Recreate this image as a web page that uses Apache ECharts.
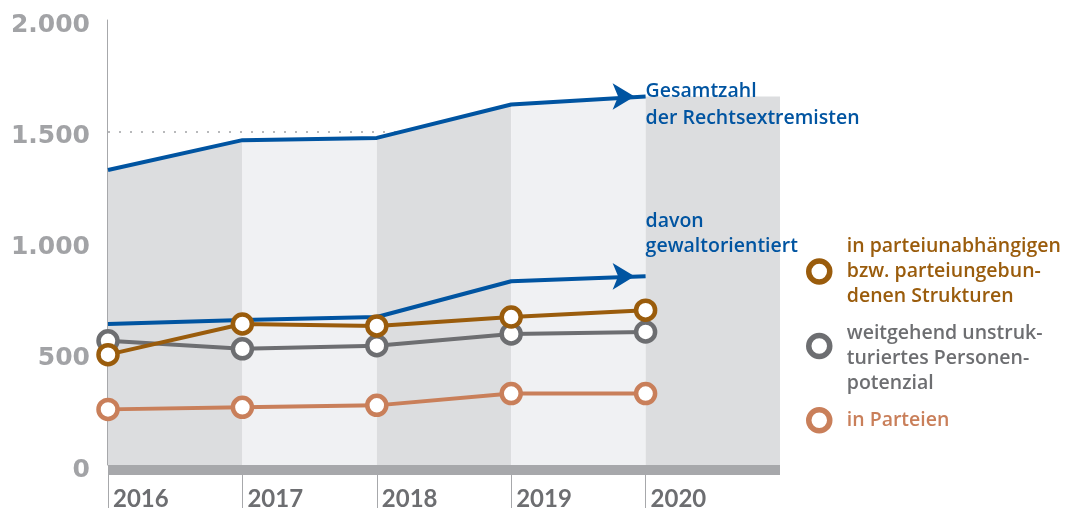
<!DOCTYPE html>
<html>
<head>
<meta charset="utf-8">
<script src="https://cdn.jsdelivr.net/npm/echarts@6/dist/echarts.min.js"></script>
<style>
html,body{margin:0;padding:0;background:#fff;}
#chart{width:1078px;height:511px;}
</style>
</head>
<body>
<div id="chart"></div>
<script>
// ---- data ----
const years = [2016, 2017, 2018, 2019, 2020];
const xMax = 2021;
const yTicks = [0, 500, 1000, 1500, 2000];
const gesamt = [1326, 1460, 1470, 1620, 1656];
const gewalt = [634, 652, 665, 826, 848];
const parteiunabh = [496, 634, 625, 665, 696];
const unstrukturiert = [558, 522, 536, 589, 598];
const parteien = [250, 259, 268, 321, 321];

const nameGesamt = 'Gesamtzahl\nder Rechtsextremisten';
const nameGewalt = 'davon\ngewaltorientiert';
const nameUnabh = 'in parteiunabhängigen\nbzw. parteiungebun-\ndenen Strukturen';
const nameUnstr = 'weitgehend unstruk-\nturiertes Personen-\npotenzial';
const nameParteien = 'in Parteien';

// ---- styles ----
const BLUE = '#0054a1';
const BROWN = '#9a5c0c';
const GRAY = '#6d6e71';
const ORANGE = '#c97f5a';
const BAND_DARK = '#dcdddf';
const BAND_LIGHT = '#f0f1f3';
const TXT_FONT = 'Open Sans';

function pairs(xs, ys) { return xs.map((x, i) => [x, ys[i]]); }
function fmtDE(v) {
  if (v >= 1000) return Math.floor(v / 1000) + '.' + String(v % 1000).padStart(3, '0');
  return String(v);
}

// background bands under the total line
const bandSeries = [];
for (let i = 0; i < years.length; i++) {
  const x0 = years[i];
  const x1 = i + 1 < years.length ? years[i + 1] : xMax;
  const y0 = gesamt[i];
  const y1 = i + 1 < years.length ? gesamt[i + 1] : gesamt[i];
  bandSeries.push({
    type: 'line', silent: true, symbol: 'none', z: 1,
    data: [[x0, y0], [x1, y1]],
    lineStyle: { width: 0, opacity: 0 },
    areaStyle: { color: i % 2 === 0 ? BAND_DARK : BAND_LIGHT, opacity: 1 }
  });
}

function arrowData(ys) {
  return ys.map((v, i) => {
    if (i === ys.length - 1) {
      return { value: [years[i], v], symbol: 'arrow', symbolSize: [20, 22], symbolRotate: -90,
               symbolOffset: [-11, 0], itemStyle: { color: BLUE } };
    }
    return { value: [years[i], v], symbol: 'none' };
  });
}

function markerSeries(name, ys, color, z) {
  return {
    name, type: 'line', z, data: pairs(years, ys),
    symbol: 'circle', symbolSize: 19, showSymbol: true,
    lineStyle: { color, width: 4 },
    itemStyle: { color: '#fff', borderColor: color, borderWidth: 4.5 }
  };
}

const labelText = { fontFamily: TXT_FONT, fontWeight: 600, fontSize: 19.5, lineHeight: 25 };

const option = {
  animation: false,
  grid: { left: 108, right: 298, top: 20, bottom: 42 },
  xAxis: {
    type: 'value', min: years[0], max: xMax, interval: 1, offset: 5,
    axisLine: { onZero: false, show: true, lineStyle: { color: '#a7a8ab', width: 10, cap: 'butt' } },
    axisTick: { show: true, customValues: years, length: 38, lineStyle: { color: '#a7a8ab', width: 1 } },
    axisLabel: { customValues: years, formatter: v => String(v), align: 'left', padding: [0, 0, 0, 5],
                 margin: 17, fontFamily: 'Lato', fontWeight: 'bold', fontSize: 24, color: '#6d6e71' },
    splitLine: { show: false }
  },
  yAxis: {
    type: 'value', min: yTicks[0], max: yTicks[yTicks.length - 1], interval: 500, offset: 1,
    axisLine: { show: true, lineStyle: { color: '#a7a8ab', width: 1 } },
    axisTick: { show: false },
    axisLabel: { formatter: fmtDE, margin: 17, verticalAlign: 'top', lineHeight: 10,
                 fontFamily: 'DejaVu Sans', fontWeight: 'bold', fontSize: 25, color: '#a2a3a6' },
    splitLine: { show: true, showMinLine: false, showMaxLine: false,
                 lineStyle: { color: '#b8b9bb', width: 2, type: [2, 9] } }
  },
  legend: [
    { left: 806, top: 234, orient: 'vertical', padding: 0, selectedMode: false, icon: 'circle',
      itemWidth: 21, itemHeight: 21,
      data: [{ name: nameUnabh, itemStyle: { color: '#fff', borderColor: BROWN, borderWidth: 5.5 },
               textStyle: Object.assign({ color: BROWN, padding: [0, 0, 0, 12] }, labelText) }] },
    { left: 806, top: 296, orient: 'vertical', padding: 0, selectedMode: false, icon: 'circle',
      itemWidth: 21, itemHeight: 21, formatter: n => '\n' + n,
      data: [{ name: nameUnstr, itemStyle: { color: '#fff', borderColor: GRAY, borderWidth: 5.5 },
               textStyle: Object.assign({ color: GRAY, padding: [0, 0, 0, 12] }, labelText) }] },
    { left: 806, top: 407, orient: 'vertical', padding: 0, selectedMode: false, icon: 'circle',
      itemWidth: 21, itemHeight: 21,
      data: [{ name: nameParteien, itemStyle: { color: '#fff', borderColor: ORANGE, borderWidth: 5.5 },
               textStyle: Object.assign({ color: ORANGE, padding: [0, 0, 0, 12] }, labelText) }] }
  ],
  series: bandSeries.concat([
    {
      name: nameGesamt, type: 'line', z: 3, data: arrowData(gesamt), showSymbol: true,
      lineStyle: { color: BLUE, width: 4 }, itemStyle: { color: BLUE },
      endLabel: Object.assign({ show: true, formatter: nameGesamt, color: BLUE, offset: [-8, 8] },
                              labelText, { lineHeight: 27 })
    },
    {
      name: nameGewalt, type: 'line', z: 3, data: arrowData(gewalt), showSymbol: true,
      lineStyle: { color: BLUE, width: 4 }, itemStyle: { color: BLUE },
      endLabel: Object.assign({ show: true, formatter: nameGewalt, color: BLUE, offset: [-8, -42] }, labelText)
    },
    markerSeries(nameParteien, parteien, ORANGE, 4),
    markerSeries(nameUnstr, unstrukturiert, GRAY, 5),
    markerSeries(nameUnabh, parteiunabh, BROWN, 6)
  ])
};

const chart = echarts.init(document.getElementById('chart'), null, { renderer: 'canvas' });
chart.setOption(option);
</script>
</body>
</html>
